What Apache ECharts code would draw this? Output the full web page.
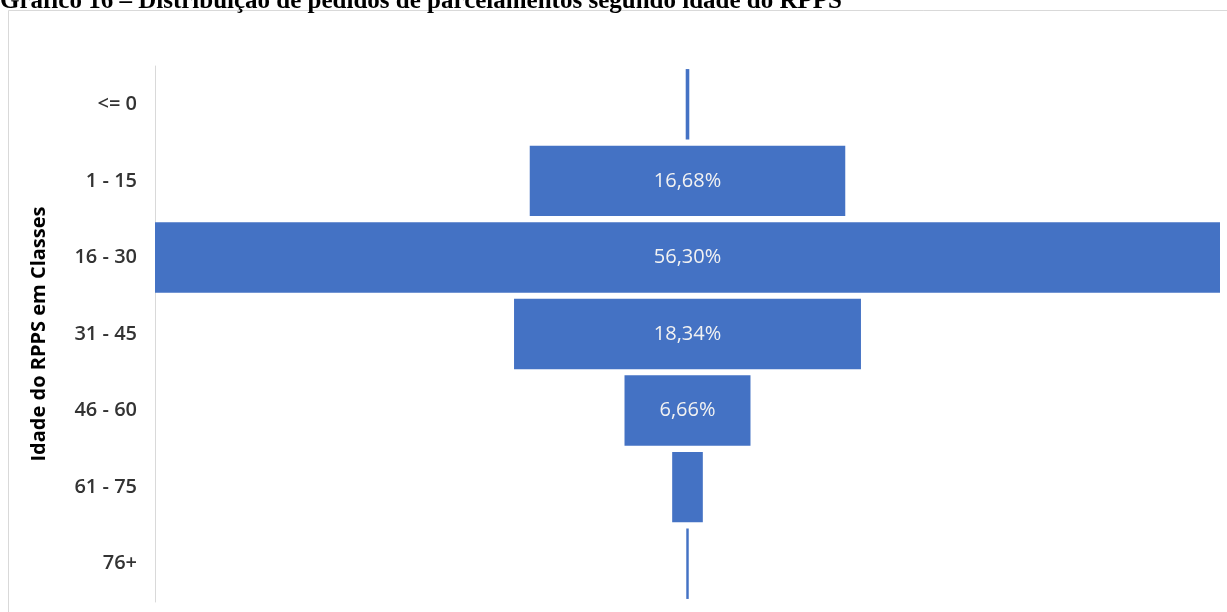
<!DOCTYPE html>
<html>
<head>
<meta charset="utf-8">
<script src="https://cdn.jsdelivr.net/npm/echarts@6/dist/echarts.min.js"></script>
<style>
  html, body { margin: 0; padding: 0; background: #ffffff; }
  #chart { width: 1227px; height: 612px; }
</style>
</head>
<body>
<div id="chart"></div>
<script>
// Age classes of the RPPS and share of installment requests (%)
const classes = ['<= 0', '1 - 15', '16 - 30', '31 - 45', '46 - 60', '61 - 75', '76+'];
const shares = [0.19, 16.68, 56.30, 18.34, 6.66, 1.62, 0.13];
// Only these classes carry a value label
const labelledClasses = ['1 - 15', '16 - 30', '31 - 45', '46 - 60'];

const chartTitle = 'Gráfico 16 – Distribuição de pedidos de parcelamentos segundo idade do RPPS';
const axisTitle = 'Idade do RPPS em Classes';

const maxShare = Math.max(...shares);
// Invisible spacer that centres each bar on the widest one
const spacer = shares.map(v => (maxShare - v) / 2);

const fmt = v => v.toFixed(2).replace('.', ',') + '%';

const chart = echarts.init(document.getElementById('chart'), null, { renderer: 'canvas' });

chart.setOption({
  animation: false,
  backgroundColor: '#ffffff',
  grid: { left: 155, right: 7, top: 66, bottom: 10, containLabel: false },
  xAxis: {
    type: 'value',
    min: 0,
    max: maxShare,
    show: false
  },
  yAxis: {
    type: 'category',
    data: classes,
    inverse: true,
    name: axisTitle,
    nameLocation: 'middle',
    nameGap: 106,
    nameRotate: 90,
    nameTextStyle: {
      fontFamily: 'Open Sans',
      fontWeight: 'bold',
      fontSize: 20,
      color: '#000000'
    },
    axisLine: { show: true, lineStyle: { color: '#d9d9d9', width: 1 } },
    axisTick: { show: false },
    axisLabel: {
      margin: 18,
      fontFamily: 'Open Sans',
      fontWeight: 600,
      fontSize: 20,
      color: '#333333'
    },
    splitLine: { show: false }
  },
  series: [
    {
      type: 'bar',
      stack: 'funnel',
      data: spacer,
      itemStyle: { color: 'rgba(0,0,0,0)' },
      barCategoryGap: '8%',
      silent: true
    },
    {
      type: 'bar',
      stack: 'funnel',
      data: shares,
      barCategoryGap: '8%',
      itemStyle: { color: '#4472c4' },
      label: {
        show: true,
        position: 'inside',
        fontFamily: 'Open Sans',
        fontSize: 20,
        color: '#f2f2f2',
        formatter: p => labelledClasses.includes(p.name) ? fmt(p.value) : ''
      }
    }
  ],
  graphic: [
    {
      type: 'rect',
      shape: { x: 8.5, y: 10.5, width: 1400, height: 800 },
      style: { fill: 'none', stroke: '#d9d9d9', lineWidth: 1 },
      z: -1,
      silent: true
    },
    {
      type: 'text',
      left: 0,
      top: -11,
      style: {
        text: chartTitle,
        font: 'bold 25px "Liberation Serif", "Times New Roman", serif',
        fill: '#000000'
      },
      silent: true
    }
  ]
});
</script>
</body>
</html>
